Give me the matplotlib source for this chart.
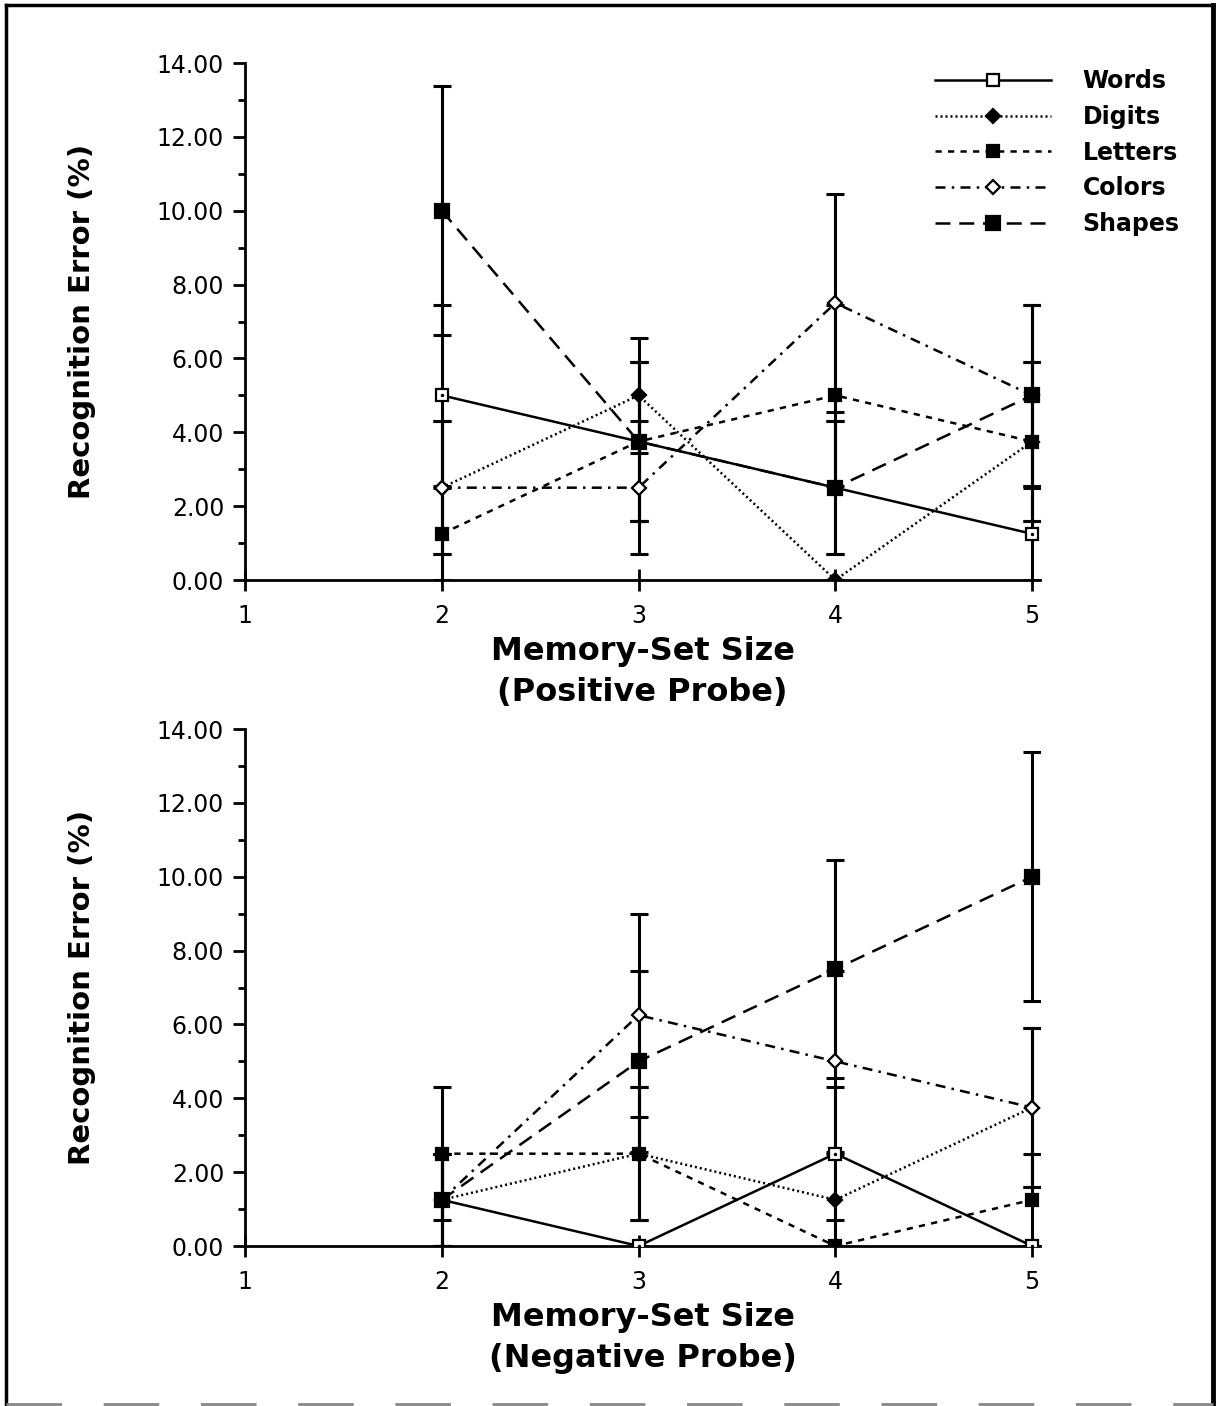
import matplotlib.pyplot as plt
import numpy as np
from matplotlib.lines import Line2D
from matplotlib.ticker import MultipleLocator, FormatStrFormatter

# memory-set sizes
set_size = [2, 3, 4, 5]
series = ['Words', 'Digits', 'Letters', 'Colors', 'Shapes']

# positive probe: mean error (%) and error bar half-length
pos_words = [5.0, 3.75, 2.5, 1.25]
pos_digits = [2.5, 5.0, 0.0, 3.75]
pos_letters = [1.25, 3.75, 5.0, 3.75]
pos_colors = [2.5, 2.5, 7.5, 5.0]
pos_shapes = [10.0, 3.75, 2.5, 5.0]
pos_words_err = [2.45, 2.15, 1.8, 1.25]
pos_digits_err = [1.8, 1.55, 0.0, 2.15]
pos_letters_err = [1.25, 2.15, 2.45, 2.15]
pos_colors_err = [1.8, 1.8, 2.95, 2.45]
pos_shapes_err = [3.37, 2.15, 1.8, 2.45]

# negative probe
neg_words = [1.25, 0.0, 2.5, 0.0]
neg_digits = [1.25, 2.5, 1.25, 3.75]
neg_letters = [2.5, 2.5, 0.0, 1.25]
neg_colors = [1.25, 6.25, 5.0, 3.75]
neg_shapes = [1.25, 5.0, 7.5, 10.0]
neg_words_err = [1.25, 0.0, 1.8, 0.0]
neg_digits_err = [1.25, 1.8, 1.25, 2.15]
neg_letters_err = [1.8, 1.8, 0.0, 1.25]
neg_colors_err = [1.25, 2.75, 2.45, 2.15]
neg_shapes_err = [1.25, 2.45, 2.95, 3.37]

x_ticks = [1, 2, 3, 4, 5]

# line style / marker per series
styles = {
    'Words':   dict(ls='-', marker='s', mfc='white', ms=8),
    'Digits':  dict(ls=(0, (0.8, 1.2)), marker='D', mfc='black', ms=7),
    'Letters': dict(ls=(0, (2.5, 2.5)), marker='s', mfc='black', ms=8),
    'Colors':  dict(ls=(0, (4, 2.5, 1, 2.5)), marker='D', mfc='white', ms=7),
    'Shapes':  dict(ls=(0, (6, 3.5)), marker='s', mfc='black', ms=10),
}

W, H = 1223, 1406
fig = plt.figure(figsize=(W / 100, H / 100), dpi=100)
plt.rcParams['font.family'] = 'DejaVu Sans'


def draw_panel(ax, means, errs, probe):
    for name, y, e in zip(series, means, errs):
        ax.errorbar(set_size, y, yerr=e, fmt='none', ecolor='black',
                    elinewidth=2.2, capsize=6.5, capthick=2.2, zorder=2)
    for name, y in zip(series, means):
        st = styles[name]
        ax.plot(set_size, y, color='black', lw=1.8, linestyle=st['ls'],
                marker=st['marker'], markersize=st['ms'], markerfacecolor=st['mfc'],
                markeredgecolor='black', markeredgewidth=1.6, zorder=3)
        if name == 'Words':
            ax.plot(set_size, y, ls='none', marker='.', ms=3, color='black', zorder=4)

    ax.set_xlim(1, 5.04)
    ax.set_ylim(0, 14)
    ax.spines['top'].set_visible(False)
    ax.spines['right'].set_visible(False)
    ax.spines['left'].set_linewidth(2)
    ax.spines['bottom'].set_linewidth(2)
    ax.set_xticks(x_ticks)
    ax.yaxis.set_major_locator(MultipleLocator(2))
    ax.yaxis.set_minor_locator(MultipleLocator(1))
    ax.yaxis.set_major_formatter(FormatStrFormatter('%.2f'))
    ax.tick_params(axis='x', direction='inout', length=16, width=2, labelsize=17, pad=9)
    ax.tick_params(axis='y', which='major', direction='out', length=9, width=2,
                   labelsize=17, pad=6)
    ax.tick_params(axis='y', which='minor', direction='out', length=5, width=2)
    ax.set_ylabel('Recognition Error (%)', fontsize=21, fontweight='bold', labelpad=44)
    ax.set_xlabel('Memory-Set Size\n(' + probe + ' Probe)', fontsize=23,
                  fontweight='bold', labelpad=6, linespacing=1.4)


ax1 = fig.add_axes([245 / W, 1 - 580 / H, 795 / W, 517 / H])
draw_panel(ax1,
           [pos_words, pos_digits, pos_letters, pos_colors, pos_shapes],
           [pos_words_err, pos_digits_err, pos_letters_err, pos_colors_err, pos_shapes_err],
           'Positive')

ax2 = fig.add_axes([245 / W, 1 - 1246 / H, 795 / W, 517 / H])
draw_panel(ax2,
           [neg_words, neg_digits, neg_letters, neg_colors, neg_shapes],
           [neg_words_err, neg_digits_err, neg_letters_err, neg_colors_err, neg_shapes_err],
           'Negative')

# legend in the top panel
handles = []
for name in series:
    st = styles[name]
    handles.append(Line2D([0], [0], color='black', lw=1.8, linestyle=st['ls'],
                          marker=st['marker'], markersize=st['ms'],
                          markerfacecolor=st['mfc'], markeredgecolor='black',
                          markeredgewidth=1.6))
leg = fig.legend(handles, series, loc='upper left',
                 bbox_to_anchor=(935 / W, 1 - 69 / H), frameon=False,
                 fontsize=17, handlelength=4.9, handletextpad=1.35,
                 labelspacing=0.5, borderpad=0, borderaxespad=0, numpoints=1)
for t in leg.get_texts():
    t.set_fontweight('bold')

# outer frame
fig.add_artist(Line2D([6 / W, 6 / W], [1 - 5 / H, 1 - 1404 / H], color='black', lw=2.5))
fig.add_artist(Line2D([6 / W, 1213 / W], [1 - 5 / H, 1 - 5 / H], color='black', lw=2.5))
fig.add_artist(Line2D([1213 / W, 1213 / W], [1 - 5 / H, 1 - 1404 / H], color='black', lw=3.5))
fig.add_artist(Line2D([6 / W, 1213 / W], [1 - 1404 / H, 1 - 1404 / H], color='#888888',
                      lw=2, linestyle=(0, (20, 15))))

fig.savefig('out.png', dpi=100)
